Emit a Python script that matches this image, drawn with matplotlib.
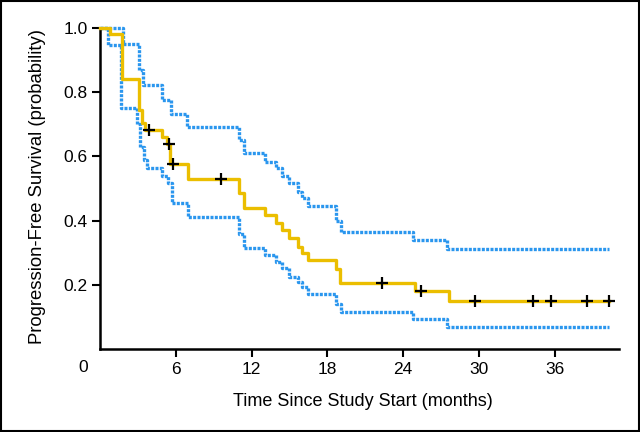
import matplotlib
matplotlib.use("Agg")
import matplotlib.pyplot as plt
from matplotlib import font_manager

# ---- data ----
km_t = [0, 0.8, 1.77, 3.1, 3.35, 3.6, 4.9, 5.3, 5.55, 7.0, 11.0, 11.4, 13.07, 13.9, 14.4, 15.0, 15.7, 16.0, 16.5, 18.7, 19.0, 24.96, 27.6, 40.3]
km_s = [1.0, 0.98, 0.84, 0.744, 0.703, 0.682, 0.661, 0.638, 0.576, 0.53, 0.485, 0.438, 0.418, 0.394, 0.371, 0.345, 0.319, 0.298, 0.278, 0.25, 0.207, 0.18, 0.151, 0.151]

cens_t = [3.9, 5.46, 5.75, 9.6, 22.3, 25.4, 29.7, 34.3, 35.7, 38.6, 40.3]
cens_s = [0.682, 0.638, 0.576, 0.53, 0.207, 0.18, 0.151, 0.151, 0.151, 0.151, 0.151]

up_t = [0, 1.85, 3.1, 3.4, 4.9, 5.6, 6.9, 11.0, 11.4, 13.07, 13.9, 14.4, 15.0, 15.7, 16.0, 16.5, 18.7, 19.1, 24.8, 27.5, 40.3]
up_s = [1.0, 0.949, 0.87, 0.822, 0.775, 0.732, 0.692, 0.65, 0.609, 0.583, 0.563, 0.539, 0.516, 0.49, 0.47, 0.446, 0.40, 0.366, 0.34, 0.312, 0.312]

lo_t = [0, 0.66, 1.7, 2.9, 3.2, 3.5, 3.7, 4.9, 5.4, 5.67, 7.0, 11.0, 11.4, 13.07, 13.9, 14.4, 15.0, 15.7, 16.0, 16.5, 18.7, 19.1, 24.8, 27.5, 40.3]
lo_s = [1.0, 0.946, 0.749, 0.70, 0.63, 0.589, 0.563, 0.54, 0.516, 0.454, 0.41, 0.36, 0.314, 0.293, 0.272, 0.252, 0.226, 0.21, 0.195, 0.172, 0.14, 0.117, 0.094, 0.07, 0.07]

x_ticks = [6, 12, 18, 24, 30, 36]
y_ticks = [0.2, 0.4, 0.6, 0.8, 1.0]
y_ticklabels = ["0.2", "0.4", "0.6", "0.8", "1.0"]

fig = plt.figure(figsize=(6.4, 4.32), dpi=100)
fig.patch.set_facecolor("white")
ax = fig.add_axes([100 / 640, 1 - 349.3 / 432, (619 - 100) / 640, (349.3 - 27.7) / 432])

blue = "#2A96EE"
gold = "#EBBE00"

for t, s in ((up_t, up_s), (lo_t, lo_s)):
    ax.step(t, s, where="post", color=blue, lw=2.4, linestyle=(0, (0.9, 0.4)), clip_on=False, zorder=2)
ax.step(km_t, km_s, where="post", color=gold, lw=2.4, clip_on=False, zorder=3)
ax.plot(cens_t, cens_s, linestyle="none", marker="+", color="black", markersize=9, markeredgewidth=1.6, clip_on=False, zorder=4)

ax.set_xlim(0, 41.1)
ax.set_ylim(0, 1.0)
ax.set_xticks(x_ticks)
ax.set_xticklabels([str(v) for v in x_ticks], fontfamily="Liberation Sans", fontsize=12.5)
ax.set_yticks(y_ticks)
ax.set_yticklabels(y_ticklabels, fontfamily="Liberation Sans", fontsize=12.5)
ax.tick_params(axis="both", direction="out", length=6, width=1.5, color="black", pad=3)
for side in ("top", "right"):
    ax.spines[side].set_visible(False)
for side in ("left", "bottom"):
    ax.spines[side].set_linewidth(1.8)

fig.text(83 / 640, 1 - 368 / 432, "0", ha="center", va="center", fontfamily="Liberation Sans", fontsize=12.5)
fig.text(363 / 640, 1 - 402 / 432, "Time Since Study Start (months)", ha="center", va="center", fontfamily="Liberation Sans", fontsize=13)
fig.text(38 / 640, 1 - 187 / 432, "Progression-Free Survival (probability)", ha="center", va="center", rotation=90, fontfamily="Liberation Sans", fontsize=13.3)

border = plt.Rectangle((0.0015, 0.002), 0.997, 0.996, transform=fig.transFigure, fill=False, edgecolor="black", linewidth=1.5)
fig.patches.append(border)

fig.savefig("out.png", dpi=100)
